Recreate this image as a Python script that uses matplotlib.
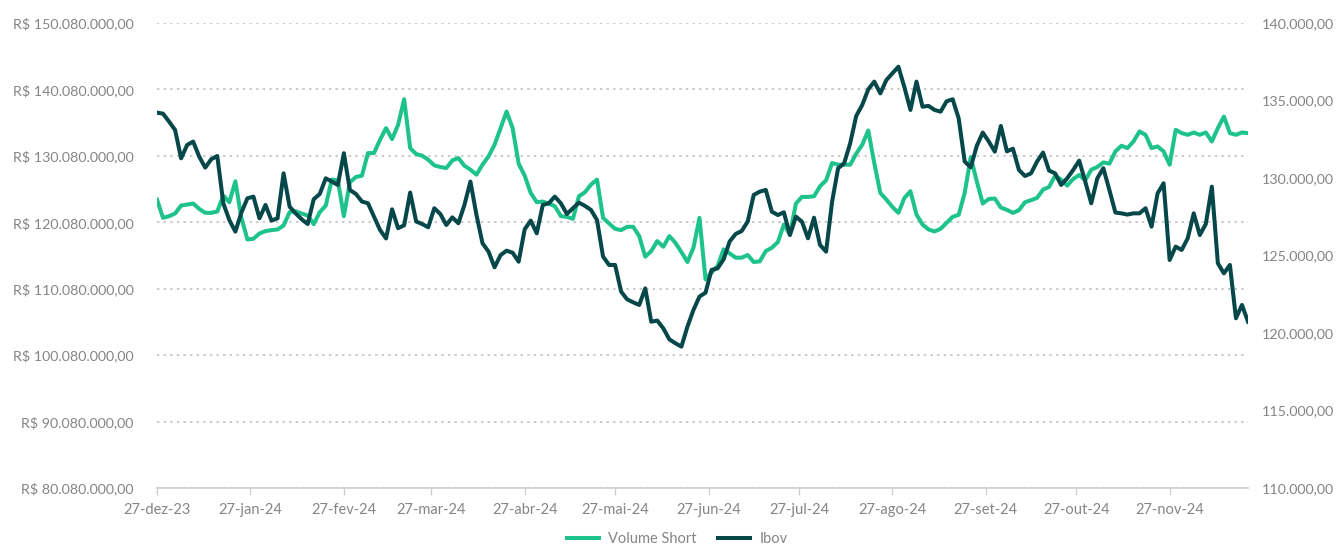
import matplotlib
matplotlib.use("Agg")
import matplotlib.pyplot as plt
import matplotlib.dates as mdates
from matplotlib.ticker import FuncFormatter, FixedLocator
import numpy as np
import pandas as pd

# ---------------- data ----------------
start_date = "2023-12-27"
n_points = 182
dates = pd.date_range(start_date, periods=n_points, freq="2D")

# Volume Short (R$ millions)
volume_short_mi = [
    123.5, 120.75, 121.0, 121.4, 122.6, 122.75, 122.9, 122.1, 121.5, 121.5,
    121.7, 124.1, 123.1, 126.25, 120.75, 117.5, 117.6, 118.4, 118.75, 118.9,
    119.0, 119.6, 121.6, 121.75, 121.4, 121.1, 119.8, 121.6, 122.6, 126.5,
    126.4, 121.0, 126.1, 126.9, 127.1, 130.5, 130.5, 132.5, 134.25, 132.6,
    134.75, 138.6, 131.25, 130.35, 130.1, 129.5, 128.65, 128.4, 128.25, 129.4,
    129.75, 128.6, 128.0, 127.25, 128.75, 130.0, 131.75, 134.25, 136.75, 134.25,
    128.9, 127.1, 124.5, 123.1, 123.2, 122.9, 122.5, 121.0, 120.9, 120.6,
    124.0, 124.6, 125.75, 126.5, 120.75, 119.9, 119.1, 118.9, 119.4, 119.4,
    118.0, 114.9, 115.75, 117.25, 116.4, 118.0, 117.0, 115.6, 114.1, 116.25,
    120.75, 111.5, 112.5, 113.5, 116.0, 115.4, 114.75, 114.75, 115.15, 114.1,
    114.2, 115.75, 116.25, 117.1, 119.75, 118.25, 122.9, 123.9, 123.9, 124.0,
    125.5, 126.4, 129.0, 128.75, 128.75, 128.75, 130.4, 131.75, 133.9, 129.0,
    124.5, 123.5, 122.4, 121.5, 123.75, 124.75, 121.25, 119.75, 119.0, 118.7,
    119.1, 120.0, 120.9, 121.2, 124.5, 129.9, 126.25, 122.9, 123.6, 123.65,
    122.3, 121.95, 121.5, 121.9, 123.1, 123.4, 123.75, 125.0, 125.4, 127.1,
    126.5, 125.6, 126.6, 127.2, 126.4, 128.0, 128.4, 129.1, 128.9, 130.75,
    131.6, 131.25, 132.25, 133.75, 133.25, 131.25, 131.5, 130.75, 128.75, 134.0,
    133.5, 133.25, 133.6, 133.25, 133.6, 132.25, 134.25, 136.0, 133.5, 133.25,
    133.6, 133.5,
]

# Ibov (thousand points)
ibov_mil = [
    134.22, 134.15, 133.64, 133.10, 131.27, 132.13, 132.35, 131.38, 130.67, 131.21,
    131.42, 128.37, 127.29, 126.54, 127.77, 128.69, 128.80, 127.40, 128.26, 127.25,
    127.40, 130.30, 128.15, 127.72, 127.34, 127.03, 128.63, 128.97, 129.98, 129.77,
    129.55, 131.60, 129.23, 128.97, 128.48, 128.37, 127.51, 126.65, 126.10, 127.98,
    126.76, 126.95, 129.06, 127.19, 127.03, 126.82, 128.05, 127.68, 126.97, 127.46,
    127.08, 128.26, 129.77, 127.62, 125.79, 125.25, 124.24, 125.03, 125.31, 125.18,
    124.60, 126.69, 127.25, 126.43, 128.26, 128.37, 128.80, 128.37, 127.68, 128.05,
    128.41, 128.20, 127.94, 127.29, 124.93, 124.39, 124.39, 122.67, 122.17, 121.98,
    121.81, 122.88, 120.73, 120.80, 120.30, 119.59, 119.34, 119.12, 120.41, 121.49,
    122.35, 122.60, 124.07, 124.17, 124.75, 125.90, 126.39, 126.58, 127.19, 128.91,
    129.12, 129.23, 127.83, 127.61, 127.79, 126.32, 127.51, 127.18, 126.11, 127.44,
    125.68, 125.25, 128.47, 130.63, 130.95, 132.24, 134.00, 134.71, 135.72, 136.22,
    135.46, 136.32, 136.75, 137.18, 135.85, 134.39, 136.22, 134.60, 134.65, 134.39,
    134.28, 134.95, 135.08, 133.85, 131.06, 130.69, 132.07, 132.93, 132.35, 131.70,
    133.36, 131.72, 131.89, 130.52, 130.13, 130.30, 131.06, 131.64, 130.48, 130.30,
    129.55, 129.98, 130.52, 131.12, 129.77, 128.37, 129.98, 130.63, 129.23, 127.77,
    127.72, 127.64, 127.72, 127.72, 128.05, 126.86, 129.01, 129.66, 124.71, 125.57,
    125.36, 126.11, 127.72, 126.32, 127.03, 129.44, 124.50, 123.85, 124.39, 120.95,
    121.81, 120.73,
]

x_tick_dates = ["2023-12-27", "2024-01-27", "2024-02-27", "2024-03-27", "2024-04-27",
                "2024-05-27", "2024-06-27", "2024-07-27", "2024-08-27", "2024-09-27",
                "2024-10-27", "2024-11-27"]
x_tick_labels = ["27-dez-23", "27-jan-24", "27-fev-24", "27-mar-24", "27-abr-24",
                 "27-mai-24", "27-jun-24", "27-jul-24", "27-ago-24", "27-set-24",
                 "27-out-24", "27-nov-24"]
left_ticks = [80.08e6, 90.08e6, 100.08e6, 110.08e6, 120.08e6, 130.08e6, 140.08e6, 150.08e6]
right_ticks = [110000, 115000, 120000, 125000, 130000, 135000, 140000]

# ---------------- style ----------------
GREEN = "#1ec28b"
DARK = "#06474a"
GRAY = "#858585"
plt.rcParams["font.family"] = ["Lato", "DejaVu Sans"]

def br(v):
    s = f"{v:,.2f}"
    return s.replace(",", "X").replace(".", ",").replace("X", ".")

fig = plt.figure(figsize=(13.41, 5.46), dpi=100)
ax = fig.add_axes([157/1341, 1-488/546, (1248-157)/1341, (488-23)/546])
ax2 = ax.twinx()

vs = np.array(volume_short_mi) * 1e6
ib = np.array(ibov_mil) * 1e3

l1, = ax.plot(dates, vs, color=GREEN, lw=2.9, solid_joinstyle="round", label="Volume Short")
l2, = ax2.plot(dates, ib, color=DARK, lw=2.9, solid_joinstyle="round", label="Ibov")

ax.set_xlim(dates[0], dates[-1])
ax.set_ylim(left_ticks[0], left_ticks[-1])
ax2.set_ylim(right_ticks[0], right_ticks[-1])

ax.yaxis.set_major_locator(FixedLocator(left_ticks))
ax.yaxis.set_major_formatter(FuncFormatter(lambda v, p: "R$ " + br(v)))
ax2.yaxis.set_major_locator(FixedLocator(right_ticks))
ax2.yaxis.set_major_formatter(FuncFormatter(lambda v, p: br(v)))

xt = [mdates.date2num(pd.Timestamp(d)) for d in x_tick_dates]
ax.set_xticks(xt)
ax.set_xticklabels(x_tick_labels)

ax.grid(axis="y", color="#c9c9c9", linestyle=(0, (1.2, 2.2)), linewidth=1.4)
ax.set_axisbelow(True)

for a in (ax, ax2):
    for s in ("top", "left", "right"):
        a.spines[s].set_visible(False)
ax.spines["bottom"].set_color("#d0d0d0")
ax.spines["bottom"].set_linewidth(1.2)
ax2.spines["bottom"].set_visible(False)

ax.tick_params(axis="y", length=0, pad=17, labelsize=10.3, labelcolor=GRAY)
ax2.tick_params(axis="y", length=0, pad=10, labelsize=10.3, labelcolor=GRAY)
ax.tick_params(axis="x", length=5, width=1, color="#d0d0d0", pad=6, labelsize=10.5, labelcolor=GRAY)

fig.legend(handles=[l1, l2], loc="center", bbox_to_anchor=(0.505, 0.012), ncol=2,
           frameon=False, fontsize=10.5, labelcolor=GRAY, handlelength=2.2,
           columnspacing=1.5, handletextpad=0.6)

fig.savefig("out.png", dpi=100)
